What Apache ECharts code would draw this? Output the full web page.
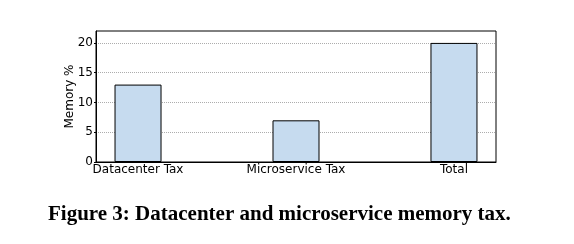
<!DOCTYPE html>
<html><head><meta charset="utf-8">
<script src="https://cdn.jsdelivr.net/npm/echarts@6/dist/echarts.min.js"></script>
<style>html,body{margin:0;padding:0;background:#fff}#c{width:574px;height:244px}</style>
</head><body><div id="c"></div>
<script>
const categories = ['Datacenter Tax', 'Microservice Tax', 'Total'];
const values = [13, 7, 20];
const yTicks = [0, 5, 10, 15, 20];
const caption = 'Figure 3: Datacenter and microservice memory tax.';

const chart = echarts.init(document.getElementById('c'), null, {renderer: 'canvas'});
const positions = categories.map((_, i) => i);
chart.setOption({
  animation: false,
  grid: {left: 96, right: 78, top: 31, bottom: 82, show: true, borderColor: '#000', borderWidth: 1, backgroundColor: 'transparent'},
  xAxis: {
    type: 'value', min: -0.266, max: 2.266,
    splitLine: {show: false},
    axisLine: {show: true, onZero: false, lineStyle: {color: '#000'}},
    axisTick: {show: false},
    axisLabel: {customValues: positions, formatter: v => categories[Math.round(v)], color: '#000', fontFamily: 'DejaVu Sans', fontSize: 12, margin: 2}
  },
  yAxis: {
    type: 'value', min: 0, max: 22, interval: 5,
    name: 'Memory %', nameLocation: 'middle', nameGap: 20, nameMoveOverlap: false,
    nameTextStyle: {color: '#000', fontFamily: 'DejaVu Sans', fontSize: 12},
    axisLine: {show: true, onZero: false, lineStyle: {color: '#000'}},
    axisTick: {show: true, customValues: yTicks, length: 2, lineStyle: {color: '#000'}},
    axisLabel: {customValues: yTicks, color: '#000', fontFamily: 'DejaVu Sans', fontSize: 12, margin: 3},
    splitLine: {show: true, lineStyle: {color: '#999', type: [1, 1], width: 0.8}}
  },
  series: [{
    type: 'bar', barWidth: 47,
    data: values.map((v, i) => [positions[i], v]),
    itemStyle: {color: '#c6dbef', borderColor: '#000', borderWidth: 1}
  }],
  graphic: [{
    type: 'text', left: 48, top: 204,
    style: {text: caption, font: 'bold 21px "Liberation Serif"', fill: '#000'}
  }]
});
</script></body></html>
